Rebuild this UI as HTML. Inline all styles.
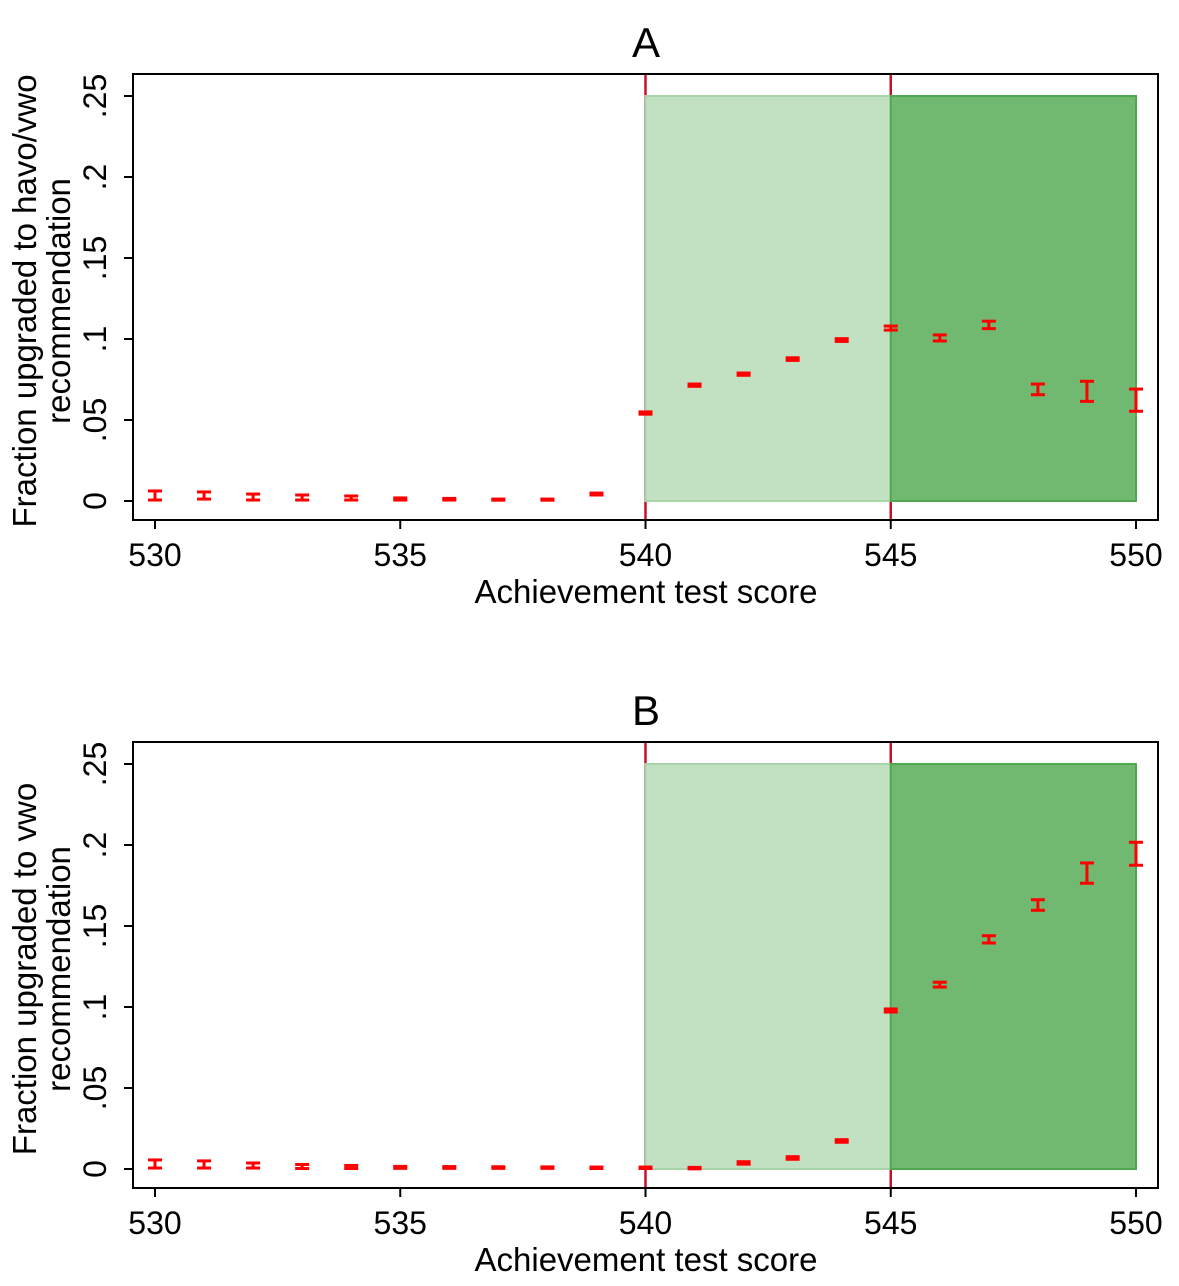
<!DOCTYPE html>
<html><head><meta charset="utf-8"><style>
body{margin:0;background:#fff;}
svg text{font-family:"Liberation Sans",Arial,sans-serif;fill:#000;}
</style></head><body>
<svg id="chart" width="1179" height="1281" viewBox="0 0 1179 1281" xmlns="http://www.w3.org/2000/svg"></svg>
<script>
const scores = [530,531,532,533,534,535,536,537,538,539,540,541,542,543,544,545,546,547,548,549,550];
const xTicks = [530,535,540,545,550];
const yTicks = [0,0.05,0.1,0.15,0.2,0.25];
const yTickLabels = ["0",".05",".1",".15",".2",".25"];
const aLo = [0.0006,0.0012,0.0006,0.0006,0.0006,0.0006,0.0006,0.0005,0.0005,0.0037,0.0536,0.0708,0.0776,0.0868,0.0985,0.1055,0.0988,0.1064,0.0656,0.0615,0.0554];
const aHi = [0.0062,0.0056,0.0043,0.0037,0.0031,0.0019,0.0016,0.0012,0.0012,0.0049,0.0550,0.0722,0.0790,0.0884,0.1002,0.1080,0.1025,0.1110,0.0722,0.0739,0.0691];
const bLo = [0.0006,0.0006,0.0006,0.0003,0.0003,0.0004,0.0004,0.0004,0.0004,0.0003,0.0003,0.0001,0.0030,0.0060,0.0165,0.0969,0.1123,0.1395,0.1597,0.1764,0.1875];
const bHi = [0.0056,0.0050,0.0037,0.0028,0.0022,0.0016,0.0015,0.0014,0.0013,0.0012,0.0012,0.0010,0.0045,0.0076,0.0181,0.0988,0.1153,0.1440,0.1662,0.1889,0.2017];
const cutoffs = [540,545];
const zones = [[540,545],[545,550]];
const zoneTop = 0.25;

const NS="http://www.w3.org/2000/svg";
const svg=document.getElementById('chart');
function mk(tag,attrs,parent){const e=document.createElementNS(NS,tag);for(const k in attrs)e.setAttribute(k,attrs[k]);(parent||svg).appendChild(e);return e;}

function panel(title,top,lo,hi,label1,label2,pname){
  const g=mk('g',{});
  
  
  const fx0=133,fx1=1158,fy0=top,fy1=top+446;
  const xs=v=>155+(v-530)*(1136-155)/20;
  const ys=v=>(top+427)-v*1620;
  cutoffs.forEach(c=>{
    const l=mk('line',{x1:xs(c),x2:xs(c),y1:fy0,y2:fy1,stroke:'#c8102e','stroke-width':2.5},g);
    
    
  });
  const fills=['#c2e0c2','#71b971'],strokes=['#a9d3a9','#4fa84f'];
  zones.forEach((z,i)=>{
    const r=mk('rect',{x:xs(z[0]),y:ys(zoneTop),width:xs(z[1])-xs(z[0]),height:ys(0)-ys(zoneTop),fill:fills[i],stroke:strokes[i],'stroke-width':2},g);
    
    
  });
  const f=mk('rect',{x:fx0,y:fy0,width:fx1-fx0,height:fy1-fy0,fill:'none',stroke:'#000','stroke-width':2},g);
  
  
  scores.forEach((s,i)=>{
    const x=xs(s),y1=ys(lo[i]),y2=ys(hi[i]);
    const e=mk('g',{stroke:'#ff0000','stroke-width':3},g);
    
    
    mk('line',{x1:x,x2:x,y1:y1,y2:y2},e);
    mk('line',{x1:x-7,x2:x+7,y1:y1,y2:y1},e);
    mk('line',{x1:x-7,x2:x+7,y1:y2,y2:y2},e);
  });
  xTicks.forEach(t=>{
    mk('line',{x1:xs(t),x2:xs(t),y1:fy1,y2:fy1+9,stroke:'#000','stroke-width':2},g);
    const tx=mk('text',{x:xs(t),y:fy1+46,'font-size':32,'text-anchor':'middle'},g);
    tx.textContent=t;
    
    
  });
  yTicks.forEach((t,i)=>{
    mk('line',{x1:fx0,x2:fx0-9,y1:ys(t),y2:ys(t),stroke:'#000','stroke-width':2},g);
    const tx=mk('text',{x:0,y:0,'font-size':32,'text-anchor':'middle',transform:`translate(106,${ys(t)}) rotate(-90)`},g);
    tx.textContent=yTickLabels[i];
    
    
  });
  const xt=mk('text',{x:646,y:fy1+83,'font-size':33,'text-anchor':'middle'},g);
  xt.textContent='Achievement test score';
  
  
  const cy=(fy0+fy1)/2+4;
  const y1=mk('text',{x:0,y:0,'font-size':33,'text-anchor':'middle',transform:`translate(36,${cy}) rotate(-90)`},g);
  y1.textContent=label1;
  
  
  const y2=mk('text',{x:0,y:0,'font-size':33,'text-anchor':'middle',transform:`translate(70,${cy}) rotate(-90)`},g);
  y2.textContent=label2;
  
  
  const tt=mk('text',{x:646,y:top-17,'font-size':42,'text-anchor':'middle'},g);
  tt.textContent=title;
  
  
}
panel('A',74,aLo,aHi,'Fraction upgraded to havo/vwo','recommendation','panel-a');
panel('B',742,bLo,bHi,'Fraction upgraded to vwo','recommendation','panel-b');
</script>
</body></html>
